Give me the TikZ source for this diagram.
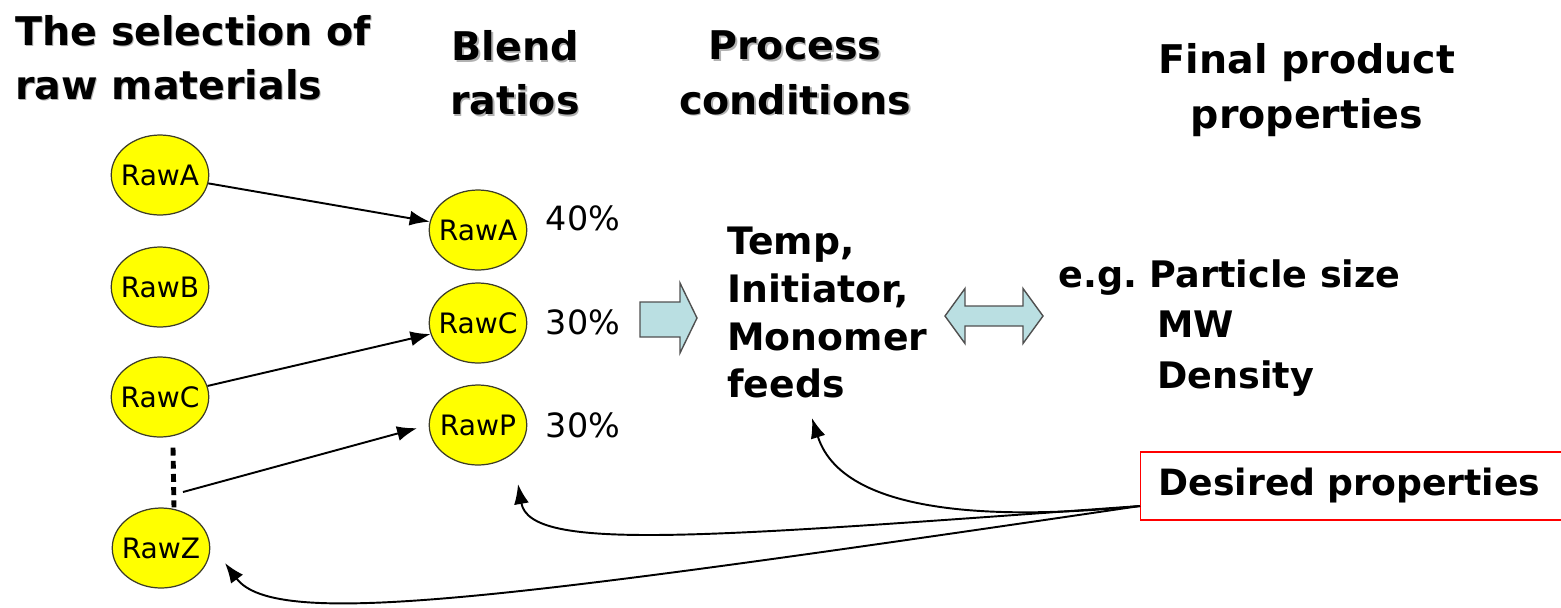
\documentclass[tikz,border=0pt]{standalone}
\usepackage{fontspec}
\setmainfont{DejaVu Sans}
\usetikzlibrary{shapes.geometric, arrows.meta, positioning, calc}
\definecolor{rawyellow}{HTML}{FFFF00}
\definecolor{rawedge}{HTML}{3C3C28}
\definecolor{blockfill}{HTML}{BADFE2}
\definecolor{blockedge}{HTML}{505050}
\tikzset{
  hdr/.style={font={\fontsize{22.5}{31}\selectfont\bfseries}, align=center, inner sep=0pt},
  rawnode/.style={ellipse, draw=rawedge, line width=0.7pt, fill=rawyellow,
                  minimum width=1.95cm, minimum height=1.6cm, inner xsep=-1mm, inner ysep=0pt,
                  font=\fontsize{16}{18}\selectfont},
  pct/.style={font=\fontsize{19}{22}\selectfont, inner sep=0pt},
  proctxt/.style={font={\fontsize{21.5}{27.3}\selectfont\bfseries}, align=left, inner sep=0pt},
  proptxt/.style={font={\fontsize{20.8}{28.5}\selectfont\bfseries}, align=left, inner sep=0pt},
  goalbox/.style={rectangle, draw=red, line width=0.8pt, fill=white, anchor=west,
                  minimum width=8.6cm, minimum height=1.36cm, inner xsep=0.36cm,
                  text width=7.9cm, align=left,
                  font={\fontsize{20.6}{24}\selectfont\bfseries}},
  selarr/.style={draw=black, line width=1.1pt, -{Latex[length=4mm, width=3mm]}},
  fbarr/.style={draw=black, line width=1.1pt, -{Latex[length=4mm, width=3mm]}},
  dotline/.style={draw=black, line width=2.8pt, dash pattern=on 4.5pt off 3pt},
  blockarr/.style={draw=blockedge, fill=blockfill, line width=0.8pt},
}
\newcommand{\shadowhdr}[3]{%
  \node[hdr, text=black!30] at ([xshift=0.9pt, yshift=-0.9pt]#2) {#3};
  \node[hdr] (#1) at (#2) {#3};
}

\begin{document}
\begin{tikzpicture}
\useasboundingbox (0,0) rectangle (31.22,-12.14);

% column headers
\node[hdr, text=black!30, align=left, anchor=west] at (0.32,-1.18) {The selection of\\raw materials};
\node[hdr, align=left, anchor=west] (hsel) at (0.3,-1.16) {The selection of\\raw materials};
\shadowhdr{hblend}{10.3,-1.46}{Blend\\ratios}
\shadowhdr{hproc}{15.9,-1.46}{Process\\conditions}
\node[hdr] (hfinal) at (26.14,-1.8) {Final product\\properties};

% raw materials
\node[rawnode] (lrawA) at (3.2,-3.5)   {RawA};
\node[rawnode] (lrawB) at (3.2,-5.74)  {RawB};
\node[rawnode] (lrawC) at (3.2,-7.94)  {RawC};
\node[rawnode] (lrawZ) at (3.22,-10.96) {RawZ};

\draw[dotline] ([xshift=2.6mm, yshift=-2mm]lrawC.south) -- ([xshift=2.6mm]lrawZ.north);
\coordinate (dotsend) at (3.66,-9.84);

% blend
\node[rawnode] (mrawA) at (9.56,-4.6)  {RawA};
\node[rawnode] (mrawC) at (9.56,-6.46) {RawC};
\node[rawnode] (mrawP) at (9.56,-8.5)  {RawP};

\node[pct] (pctA) at (11.66,-4.36) {40\%};
\node[pct] (pctC) at (11.66,-6.44) {30\%};
\node[pct] (pctP) at (11.66,-8.5)  {30\%};

\draw[selarr] (lrawA) -- (mrawA);
\draw[selarr] (lrawC) -- (mrawC);
\draw[selarr, shorten >=2.4mm] (dotsend) -- (mrawP.west);

% process / properties
\draw[blockarr] (12.8,-6.04) -- (13.6,-6.04) -- (13.6,-5.66) -- (13.94,-6.36)
  -- (13.6,-7.06) -- (13.6,-6.74) -- (12.8,-6.74) -- cycle;

\node[proctxt, anchor=west] (proc) at (14.54,-6.25) {Temp,\\Initiator,\\Monomer\\feeds};

\draw[blockarr] (18.9,-6.32) -- (19.3,-5.77) -- (19.3,-6.12) -- (20.46,-6.12)
  -- (20.46,-5.77) -- (20.86,-6.32) -- (20.46,-6.87) -- (20.46,-6.52)
  -- (19.3,-6.52) -- (19.3,-6.87) -- cycle;

\node[proptxt, anchor=west] (props) at (21.16,-6.56)
  {e.g.\ Particle size\\\hspace*{1.98cm}MW\\\hspace*{1.98cm}Density};

% feedback from the targets
\node[goalbox] (desired) at (22.8,-9.72) {Desired properties};
\coordinate (dsrc)  at ([yshift=-4mm]desired.west);
\coordinate (tfeed) at (16.24,-8.36);
\coordinate (tblend) at (10.36,-9.68);
\coordinate (traw)  at (4.5,-11.26);

\draw[fbarr] (dsrc) .. controls (20.5,-10.35) and (16.9,-10.45) .. (tfeed);
\draw[fbarr] (dsrc) .. controls (14,-10.75) and (10.6,-11.05) .. (tblend);
\draw[fbarr] (dsrc) .. controls (10,-12.0) and (5.5,-12.6) .. (traw);

\end{tikzpicture}
\end{document}
